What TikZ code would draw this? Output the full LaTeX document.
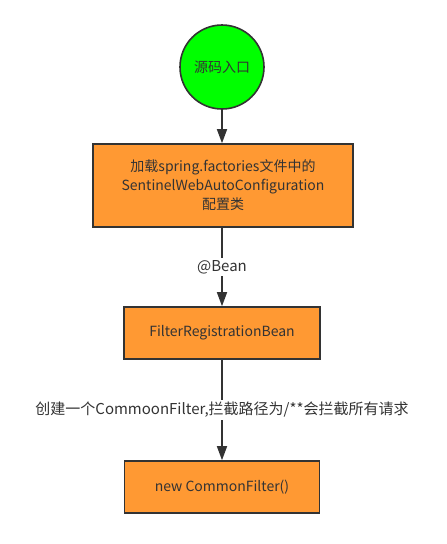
\documentclass[tikz,border=0pt]{standalone}
\usepackage{fontspec}
\setmainfont{Noto Sans CJK SC}
\usetikzlibrary{arrows.meta}
\definecolor{boxorange}{HTML}{FF9933}
\definecolor{circgreen}{HTML}{00FF00}
\definecolor{edgegray}{HTML}{333333}
\definecolor{txtgray}{HTML}{333333}
\tikzset{
  boxnode/.style={draw=edgegray, line width=1.6pt, fill=boxorange, text=txtgray, font=\fontsize{14}{19}\selectfont, align=center, inner sep=0pt},
  startnode/.style={circle, draw=edgegray, line width=1.6pt, fill=circgreen, text=txtgray, font=\fontsize{14}{16}\selectfont, inner sep=0pt, minimum size=84pt},
  conn/.style={draw=edgegray, line width=1.6pt, -{Triangle[length=14pt,width=10pt]}},
  lbl/.style={fill=white, text=txtgray, font=\fontsize{15}{17}\selectfont, inner sep=2pt}
}
\begin{document}
\begin{tikzpicture}[x=1pt,y=-1pt]
\useasboundingbox (0,0) rectangle (447,544);
\node[startnode] (start) at (222,67) {源码入口};
\node[boxnode, minimum width=260pt, minimum height=83pt] (load) at (223,185.5) {加载spring.factories文件中的\\SentinelWebAutoConfiguration\\配置类};
\node[boxnode, minimum width=196pt, minimum height=52pt] (frb) at (222,333) {FilterRegistrationBean};
\node[boxnode, minimum width=195pt, minimum height=52pt] (ncf) at (222,487) {new CommonFilter()};
\draw[conn] (start) -- (start |- load.north);
\draw[conn] (load.south -| frb) -- node[lbl, pos=0.5] (lb1) {@Bean} (frb.north);
\draw[conn] (frb) -- node[lbl, pos=0.5] (lb2) {创建一个CommoonFilter,拦截路径为/**会拦截所有请求} (ncf.north);
\end{tikzpicture}
\end{document}
